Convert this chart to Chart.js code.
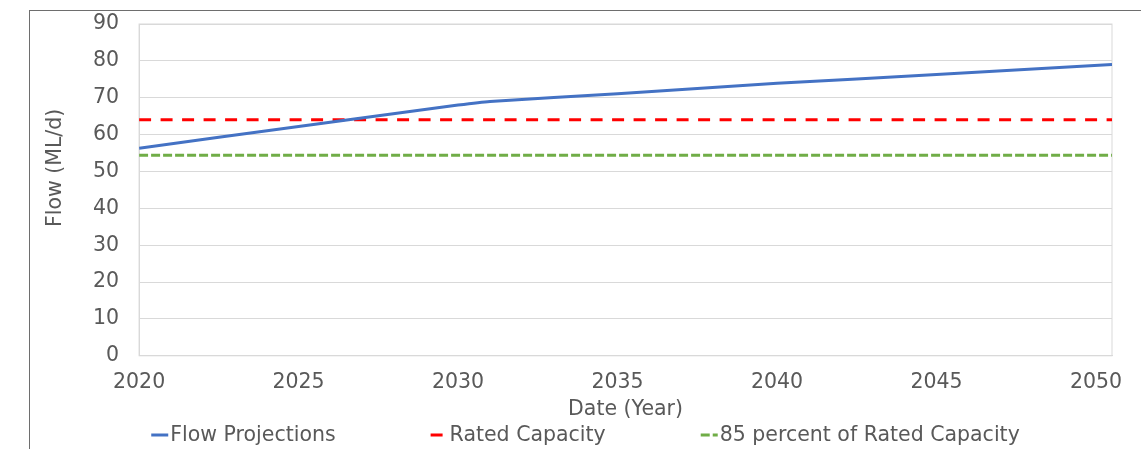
<!DOCTYPE html>
<html>
<head>
<meta charset="utf-8">
<script src="https://cdn.jsdelivr.net/npm/chart.js@4/dist/chart.umd.min.js"></script>
<style>
  html, body { margin: 0; padding: 0; background: #ffffff; overflow: hidden; }
  #frame {
    position: absolute; left: 29px; top: 10px;
    width: 1140px; height: 460px;
    border: 1px solid #6e6e6e; background: #ffffff;
  }
  #wrap { position: absolute; left: 0; top: 0; width: 1111px; height: 438px; }
</style>
</head>
<body>
<div id="frame"><div id="wrap"><canvas id="flow-chart"></canvas></div></div>
<script>
// values
const flowYears  = [2020, 2025, 2030, 2031, 2035, 2040, 2045, 2050.5];
const flowValues = [56.3, 62.2, 68.0, 69.0, 71.1, 73.9, 76.3, 79.0];
const capacityYears = [2020, 2050.5];
const ratedCapacity = [64, 64];
const capacity85    = [54.4, 54.4];
const xTicks = [2020, 2025, 2030, 2035, 2040, 2045, 2050];
const yTitle = 'Flow (ML/d)';

const GREY = '#595959';
const FONT = "'DejaVu Sans', Verdana, sans-serif";
const FSIZE = 20.5;

const toPoints = (xs, ys) => xs.map((x, i) => ({ x, y: ys[i] }));

// light border round the plot area, like the spreadsheet original
const plotBox = {
  id: 'plotBox',
  beforeDatasetsDraw(chart) {
    const { ctx, chartArea: a } = chart;
    ctx.save();
    ctx.strokeStyle = '#d9d9d9';
    ctx.lineWidth = 1;
    ctx.strokeRect(a.left, a.top, a.right - a.left, a.bottom - a.top);
    ctx.restore();
  }
};

// y title sits a bit above the plot middle in the original, so draw it here
const sideTitle = {
  id: 'sideTitle',
  afterDraw(chart, args, opts) {
    const { ctx, chartArea: a } = chart;
    ctx.save();
    ctx.translate(opts.x, (a.top + a.bottom) / 2 - opts.lift);
    ctx.rotate(-Math.PI / 2);
    ctx.font = `${FSIZE}px ${FONT}`;
    ctx.fillStyle = GREY;
    ctx.textAlign = 'center';
    ctx.textBaseline = 'middle';
    ctx.fillText(opts.text, 0, 0);
    ctx.restore();
  }
};

// spreadsheet-style legend: short line samples, wide gaps between entries
const bottomLegend = {
  id: 'bottomLegend',
  afterDraw(chart, args, opts) {
    const { ctx } = chart;
    ctx.save();
    ctx.font = `${opts.size}px ${FONT}`;
    ctx.textBaseline = 'middle';
    const items = chart.data.datasets.map(ds => ({
      ds, w: opts.marker + opts.textGap + ctx.measureText(ds.label).width
    }));
    const total = items.reduce((s, it) => s + it.w, 0) + opts.gap * (items.length - 1);
    let x = (chart.width - total) / 2;
    const y = chart.height - opts.bottom;
    items.forEach(({ ds, w }) => {
      ctx.strokeStyle = ds.borderColor;
      ctx.lineWidth = ds.borderWidth;
      ctx.setLineDash(ds.borderDash || []);
      ctx.beginPath();
      ctx.moveTo(x, y);
      ctx.lineTo(x + opts.marker, y);
      ctx.stroke();
      ctx.setLineDash([]);
      ctx.fillStyle = GREY;
      ctx.fillText(ds.label, x + opts.marker + opts.textGap, y + 1);
      x += w + opts.gap;
    });
    ctx.restore();
  }
};

new Chart(document.getElementById('flow-chart').getContext('2d'), {
  type: 'line',
  data: {
    datasets: [
      {
        label: 'Flow Projections',
        data: toPoints(flowYears, flowValues),
        borderColor: '#4472c4',
        borderWidth: 3,
        pointRadius: 0,
        tension: 0.2,
        fill: false
      },
      {
        label: 'Rated Capacity',
        data: toPoints(capacityYears, ratedCapacity),
        borderColor: '#ff0000',
        borderWidth: 3,
        borderDash: [12, 9.5],
        pointRadius: 0,
        fill: false
      },
      {
        label: '85 percent of Rated Capacity',
        data: toPoints(capacityYears, capacity85),
        borderColor: '#70ad47',
        borderWidth: 3,
        borderDash: [9, 3],
        pointRadius: 0,
        fill: false
      }
    ]
  },
  options: {
    responsive: true,
    maintainAspectRatio: false,
    animation: false,
    layout: { padding: { left: 63, right: 29, top: 13, bottom: 27 } },
    plugins: {
      legend: { display: false },
      tooltip: { enabled: false },
      sideTitle: { text: yTitle, x: 26, lift: 22 },
      bottomLegend: { size: FSIZE, marker: 17, textGap: 2, gap: 95, bottom: 14 }
    },
    scales: {
      x: {
        type: 'linear',
        min: 2020,
        max: 2050.5,
        afterBuildTicks: (axis) => { axis.ticks = xTicks.map(v => ({ value: v })); },
        // grid hidden, tick length only used as label offset
        grid: { display: false, drawTicks: true, tickLength: 15 },
        border: { display: true, color: '#d9d9d9' },
        ticks: {
          color: GREY,
          font: { family: FONT, size: FSIZE },
          maxRotation: 0,
          autoSkip: false,
          padding: 0,
          callback: (v) => String(v)
        },
        title: {
          display: true,
          text: 'Date (Year)',
          color: GREY,
          font: { family: FONT, size: FSIZE },
          padding: { top: 2, bottom: 0 }
        }
      },
      y: {
        min: 0,
        max: 90,
        ticks: {
          stepSize: 10,
          color: GREY,
          font: { family: FONT, size: FSIZE },
          padding: 0
        },
        grid: { color: '#d9d9d9', drawTicks: true, tickLength: 20, tickColor: 'rgba(0,0,0,0)' },
        border: { display: true, color: '#d9d9d9' }
      }
    }
  },
  plugins: [plotBox, sideTitle, bottomLegend]
});
</script>
</body>
</html>
